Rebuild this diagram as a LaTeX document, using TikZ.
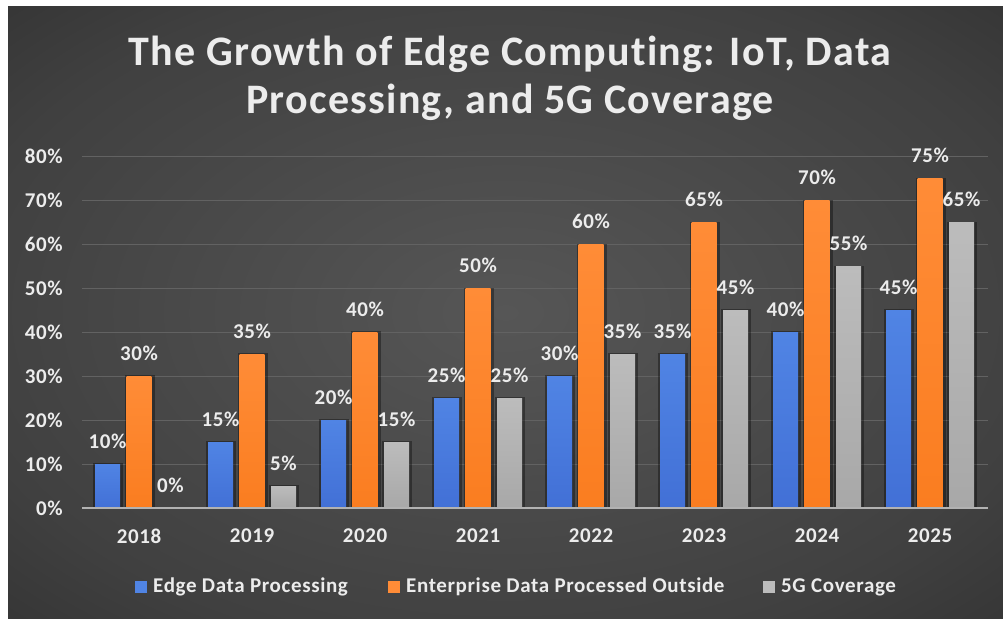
\documentclass[tikz,border=0pt]{standalone}
\usepackage{fontspec}
\setmainfont{Carlito}[Ligatures=NoCommon]
\definecolor{bgmid}{RGB}{86,86,86}
\definecolor{bgmid2}{RGB}{64,64,64}
\definecolor{bgedge}{RGB}{36,36,36}
\definecolor{gridgray}{RGB}{98,98,98}
\definecolor{axisgray}{RGB}{178,178,178}
\definecolor{labeltext}{RGB}{236,236,236}
\definecolor{edgeblue}{RGB}{66,112,214}
\definecolor{edgebluelt}{RGB}{80,132,228}
\definecolor{entorange}{RGB}{250,125,32}
\definecolor{entorangelt}{RGB}{255,140,55}
\definecolor{covgray}{RGB}{168,168,168}
\definecolor{covgraylt}{RGB}{188,188,188}
\pgfdeclareradialshading{bgglow}{\pgfpoint{0bp}{0bp}}{color(0bp)=(bgmid); color(28bp)=(bgmid2); color(50bp)=(bgedge); color(80bp)=(bgedge)}
\newcommand{\labelfont}{\bfseries\fontsize{21}{25}\selectfont\addfontfeature{LetterSpace=3}}
\newcommand{\titlefont}{\bfseries\fontsize{42}{48}\selectfont\addfontfeature{LetterSpace=3}}
\tikzset{
  txt/.style={text=labeltext, font=\labelfont, inner sep=0pt},
  valuelabel/.style={txt, anchor=center},
  gridline/.style={draw=gridgray, line width=1pt},
  barshadow/.style={fill=black, fill opacity=0.35},
  bluebar/.style={top color=edgebluelt, bottom color=edgeblue},
  orangebar/.style={top color=entorangelt, bottom color=entorange},
  graybar/.style={top color=covgraylt, bottom color=covgray},
  legendkey/.style={minimum width=12pt, minimum height=12pt, inner sep=0pt},
}
\begin{document}
\begin{tikzpicture}[x=1pt,y=-1pt]
\useasboundingbox (0,0) rectangle (1003,618);
\fill[white] (0,0) rectangle (1003,618);
\shade[shading=bgglow] (8,7) rectangle (1003,618);

% title
\node[txt, font=\titlefont, anchor=base] (title1) at (510,65) {The Growth of Edge Computing: IoT, Data};
\node[txt, font=\titlefont, anchor=base] (title2) at (510,113) {Processing, and 5G Coverage};

% horizontal gridlines and y-axis labels
\foreach \v in {10,20,...,80} {
  \pgfmathsetmacro{\yy}{508-4.39*\v}
  \draw[gridline] (82,\yy) -- (988,\yy);
}
\foreach \v in {0,10,...,80} {
  \pgfmathsetmacro{\yy}{508-4.39*\v}
  \node[txt, anchor=east] (ytick\v) at (63,\yy) {\v\%};
}

% bars: Edge / Enterprise / 5G per year
\foreach \yr/\e/\o/\g [count=\i from 0] in {2018/10/30/0, 2019/15/35/5, 2020/20/40/15, 2021/25/50/25, 2022/30/60/35, 2023/35/65/45, 2024/40/70/55, 2025/45/75/65} {
  \pgfmathsetmacro{\cx}{139+113*\i}
  \pgfmathsetmacro{\ye}{508-4.39*\e}
  \pgfmathsetmacro{\yo}{508-4.39*\o}
  \pgfmathsetmacro{\yg}{508-4.39*\g}
  % soft dark edge round each bar
  \fill[barshadow] (\cx-31.5-14.5,\ye-1) rectangle (\cx-31.5+15.5,508);
  \fill[barshadow] (\cx-14.5,\yo-1) rectangle (\cx+15.5,508);
  \ifnum\g>0 \fill[barshadow] (\cx+31.5-14.5,\yg-1) rectangle (\cx+31.5+15.5,508); \fi
  \fill[bluebar] (\cx-31.5-12.5,\ye) rectangle (\cx-31.5+12.5,508);
  \fill[orangebar] (\cx-12.5,\yo) rectangle (\cx+12.5,508);
  \ifnum\g>0 \fill[graybar] (\cx+31.5-12.5,\yg) rectangle (\cx+31.5+12.5,508); \fi
  \node[valuelabel] (lblE\yr) at (\cx-31.5,\ye-23) {\e\%};
  \node[valuelabel] (lblO\yr) at (\cx,\yo-23) {\o\%};
  \node[valuelabel] (lblG\yr) at (\cx+31.5,\yg-23) {\g\%};
  \node[valuelabel] (year\yr) at (\cx,536) {\yr};
}

% x axis
\draw[draw=axisgray, line width=2.5pt] (82,508) -- (988,508);

% legend
\node[legendkey, fill=edgebluelt] (keyE) at (141,587) {};
\node[txt, anchor=west] (legE) at (153,587) {Edge Data Processing};
\node[legendkey, fill=entorangelt] (keyO) at (394,587) {};
\node[txt, anchor=west] (legO) at (406,587) {Enterprise Data Processed Outside};
\node[legendkey, fill=covgraylt] (keyG) at (769,587) {};
\node[txt, anchor=west] (legG) at (781,587) {5G Coverage};
\end{tikzpicture}
\end{document}
